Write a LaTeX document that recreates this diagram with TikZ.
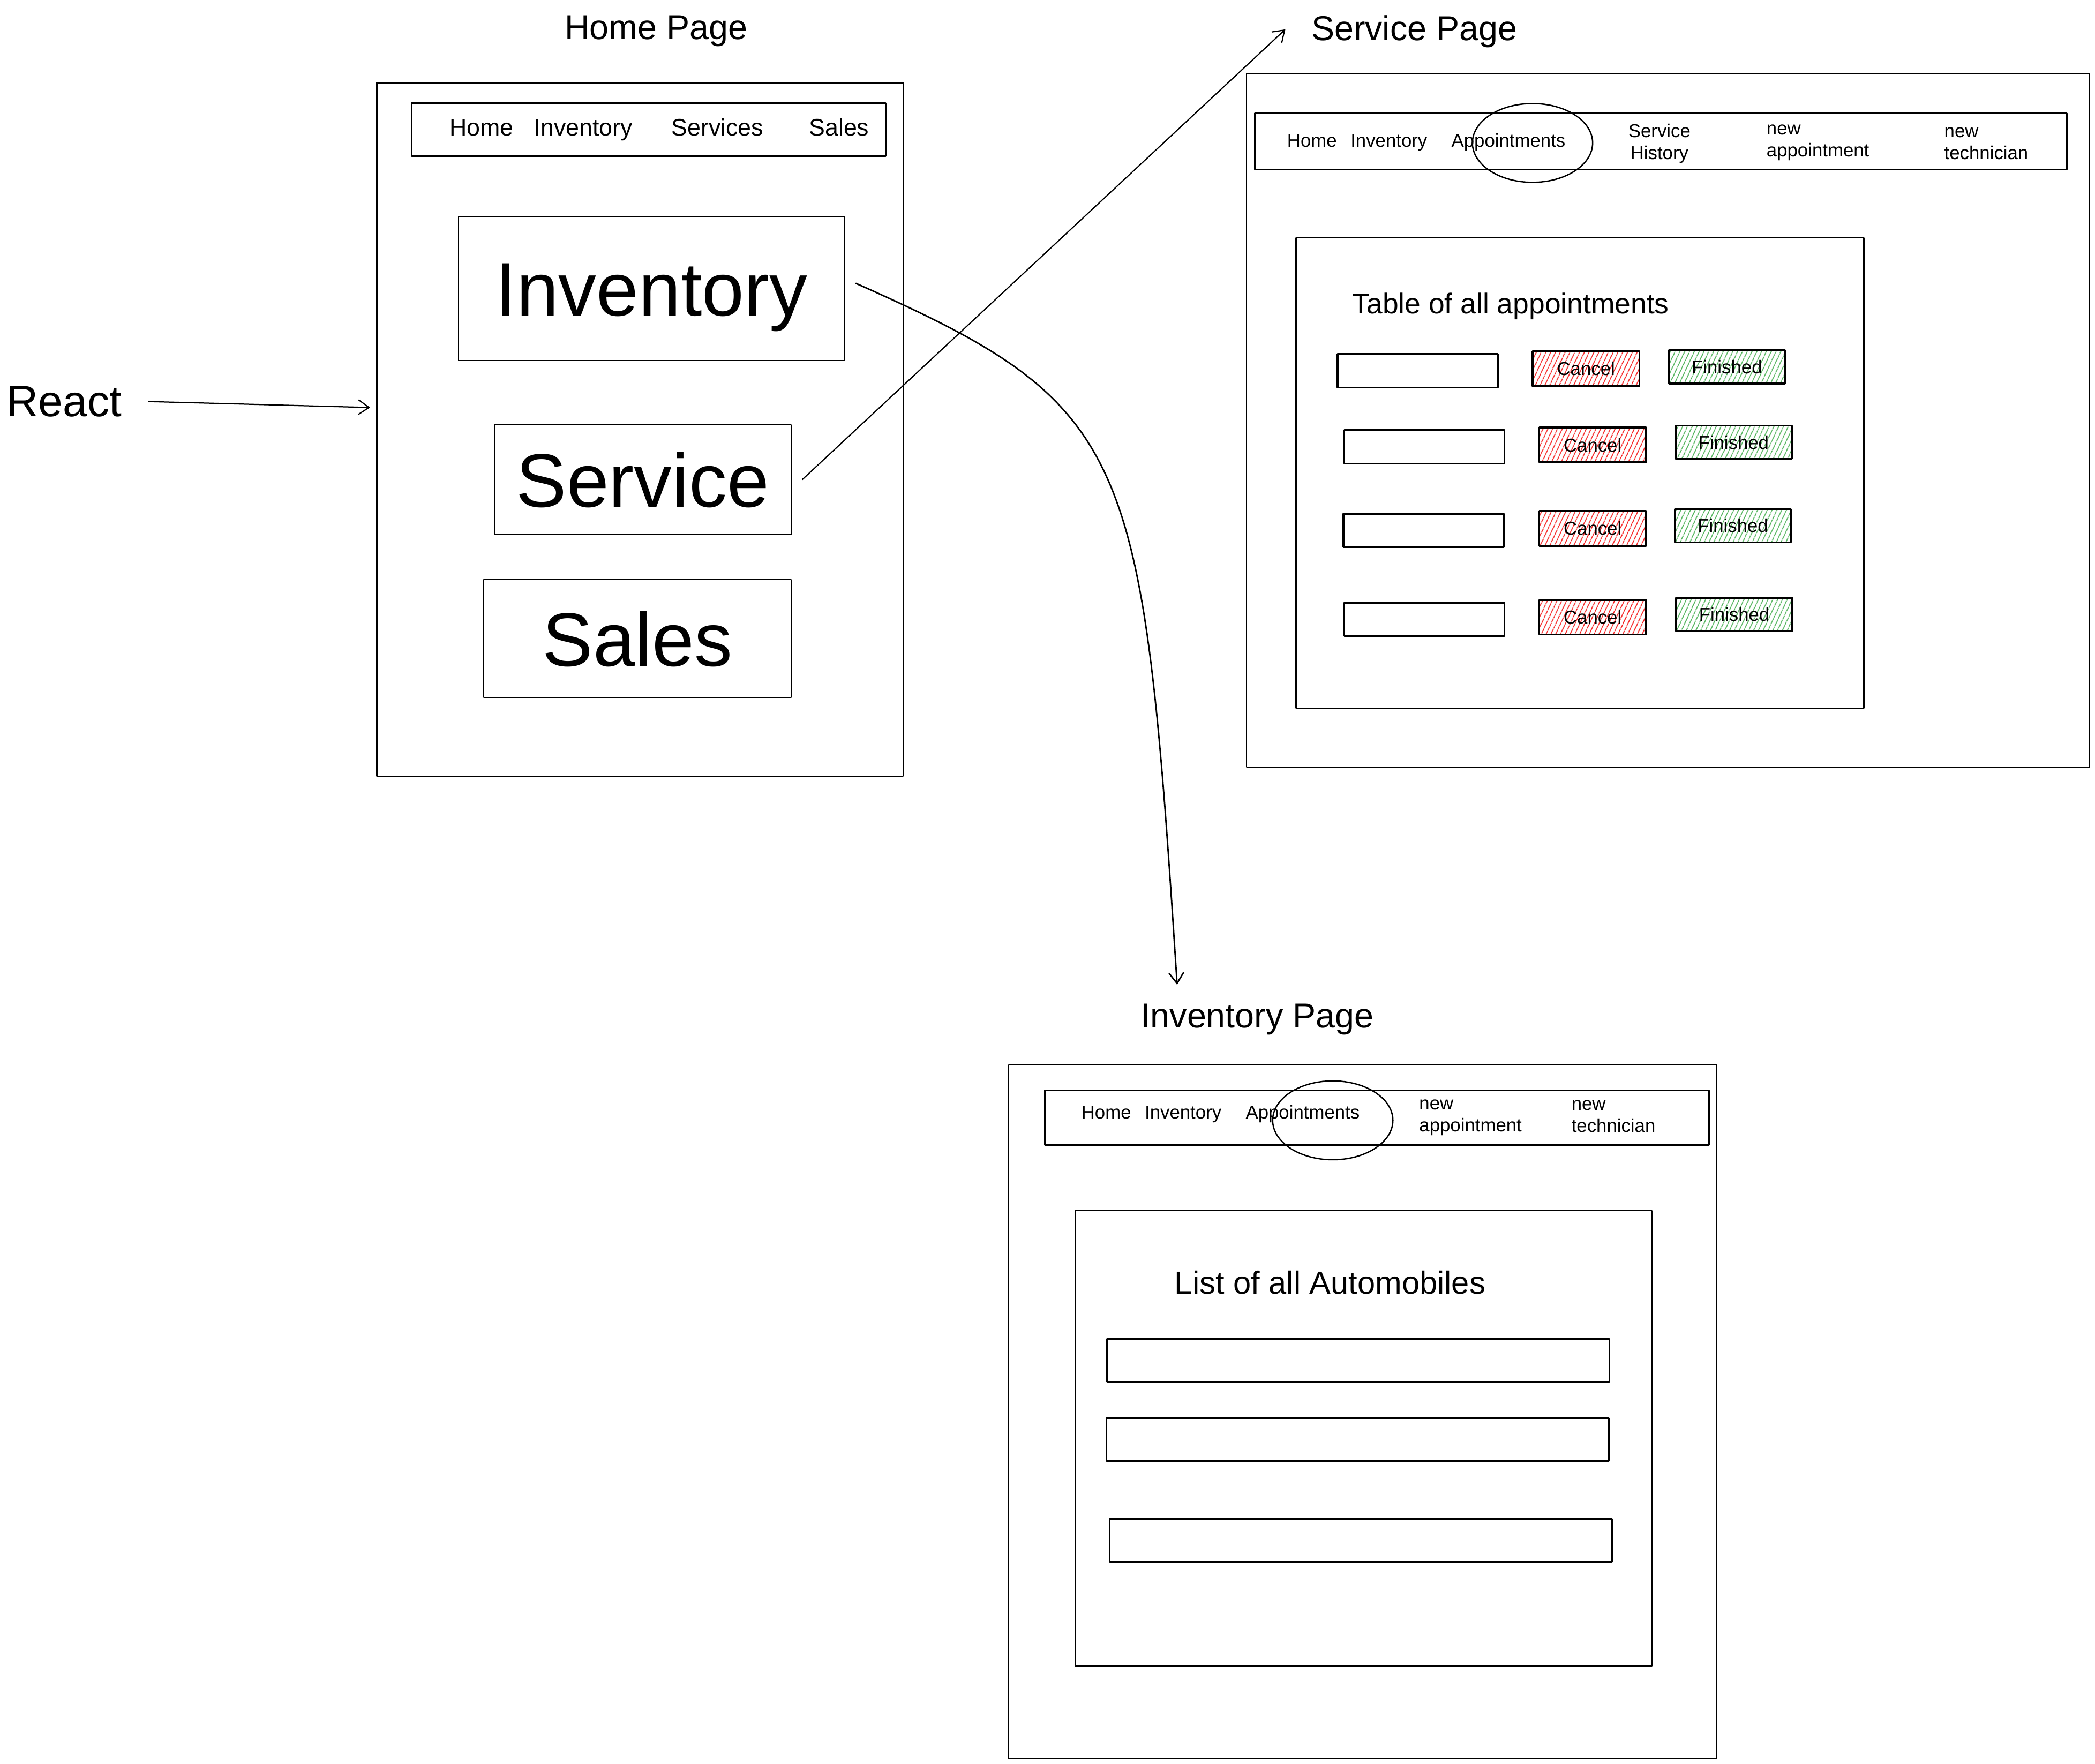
\documentclass[tikz,border=0pt]{standalone}
\usepackage{fontspec}
\setmainfont{Liberation Sans}
\usetikzlibrary{arrows.meta,patterns.meta,shapes.geometric}
\definecolor{hatchred}{RGB}{245,20,20}
\definecolor{hatchgreen}{RGB}{70,175,80}

\begin{document}
\begin{tikzpicture}[>={Straight Barb[length=8bp,width=11bp]},line join=bevel,
    page/.style={draw,rectangle,line width=0.9bp},
    bar/.style={draw,rectangle,line width=1.2bp},
    bigbox/.style={draw,rectangle,line width=0.8bp,font=\fontsize{57}{68}\selectfont,text height=40.8bp,text depth=0bp},
    ttl/.style={inner sep=0pt,font=\fontsize{26}{31}\selectfont,text height=18.6bp,text depth=0bp},
    navbig/.style={inner sep=0pt,font=\fontsize{18}{22}\selectfont,text height=12.9bp,text depth=0bp},
    navsmall/.style={inner sep=0pt,font=\fontsize{14}{16}\selectfont,text height=10bp,text depth=0bp},
    navtwo/.style={inner sep=0pt,font=\fontsize{14}{16.5}\selectfont},
    ring/.style={draw,ellipse,inner sep=0pt,line width=1bp},
    rowbox/.style={draw,rectangle,line width=1.4bp,minimum width=120bp,minimum height=25bp},
    cancelbtn/.style={draw,rectangle,line width=1.4bp,minimum width=80bp,minimum height=26bp,
        pattern={Lines[angle=65,distance=3.6bp,line width=0.8bp]},pattern color=hatchred,
        font=\fontsize{14}{16}\selectfont,text height=10bp,text depth=0bp},
    finishbtn/.style={draw,rectangle,line width=1.4bp,minimum width=87bp,minimum height=25bp,
        pattern={Lines[angle=65,distance=3.6bp,line width=0.8bp]},pattern color=hatchgreen,
        font=\fontsize{14}{16}\selectfont,text height=10bp,text depth=0bp},
    listrow/.style={draw,rectangle,line width=1.2bp,minimum width=376bp,minimum height=32bp},
    ]
    \useasboundingbox (0bp,0bp) rectangle (1568bp,1320bp);
    %% home page
    \node (hometitle) at (491bp,1300bp) [ttl] {Home Page};
    \node (homepage) at (479bp,998.5bp) [page,minimum width=394bp,minimum height=519bp] {};
    \node (homenav) at (485.5bp,1223bp) [bar,minimum width=355bp,minimum height=40bp] {};
    \node (homehome) at (360.5bp,1225bp) [navbig] {Home};
    \node (homeinv) at (436.5bp,1225bp) [navbig] {Inventory};
    \node (homesvc) at (537bp,1225bp) [navbig] {Services};
    \node (homesales) at (628bp,1225bp) [navbig] {Sales};
    \node (invbtn) at (487.5bp,1104bp) [bigbox,minimum width=289bp,minimum height=108bp] {Inventory};
    \node (svcbtn) at (481bp,961bp) [bigbox,minimum width=222bp,minimum height=82bp] {Service};
    \node (salesbtn) at (477bp,842bp) [bigbox,minimum width=230bp,minimum height=88bp] {Sales};
    %% react
    \node (react) at (48bp,1020bp) [inner sep=0pt,font=\fontsize{33}{40}\selectfont,text height=23.6bp,text depth=0bp] {React};
    \coordinate (reactin) at (277bp,1015bp);
    %% service page
    \node (svctitle) at (1058.5bp,1299bp) [ttl] {Service Page};
    \node (svcpage) at (1248.5bp,1005.5bp) [page,minimum width=631bp,minimum height=519bp] {};
    \node (svcnav) at (1243bp,1214bp) [bar,minimum width=608bp,minimum height=42bp] {};
    \node (svchome) at (982bp,1215bp) [navsmall] {Home};
    \node (svcinv) at (1039.5bp,1215bp) [navsmall] {Inventory};
    \node (svcappt) at (1129bp,1215bp) [navsmall] {Appointments};
    \node (svchist) at (1242bp,1212.5bp) [navtwo,align=center] {Service\\History};
    \node (svcnewappt) at (1322bp,1213.2bp) [navtwo,align=left,anchor=west] {new\\appointment};
    \node (svcnewtech) at (1455bp,1212.8bp) [navtwo,align=left,anchor=west] {new\\technician};
    \node (svcring) at (1147bp,1213bp) [ring,minimum width=90bp,minimum height=59bp] {};
    \node (svctable) at (1182.5bp,966bp) [page,minimum width=425bp,minimum height=352bp] {};
    \node (tabletitle) at (1012bp,1093bp) [anchor=west,inner sep=0pt,font=\fontsize{21.5}{26}\selectfont,text height=15.4bp,text depth=0bp] {Table of all appointments};
    \node (appt1) at (1061bp,1042.5bp) [rowbox] {};
    \node (cancel1) at (1187bp,1044bp) [cancelbtn] {Cancel};
    \node (finish1) at (1292.5bp,1045.5bp) [finishbtn] {Finished};
    \node (appt2) at (1066bp,985.5bp) [rowbox] {};
    \node (cancel2) at (1192bp,987bp) [cancelbtn] {Cancel};
    \node (finish2) at (1297.5bp,989bp) [finishbtn] {Finished};
    \node (appt3) at (1065.5bp,923bp) [rowbox] {};
    \node (cancel3) at (1192bp,924.5bp) [cancelbtn] {Cancel};
    \node (finish3) at (1297bp,926.5bp) [finishbtn] {Finished};
    \node (appt4) at (1066bp,856.5bp) [rowbox] {};
    \node (cancel4) at (1192bp,858bp) [cancelbtn] {Cancel};
    \node (finish4) at (1298bp,860bp) [finishbtn] {Finished};
    \coordinate (svcin) at (962bp,1298bp);
    %% inventory page
    \node (invtitle) at (941bp,560bp) [ttl] {Inventory Page};
    \node (invpage) at (1020bp,263.5bp) [page,minimum width=530bp,minimum height=519bp] {};
    \node (invnav) at (1030.5bp,483.5bp) [bar,minimum width=497bp,minimum height=41bp] {};
    \node (invhome) at (828bp,487.5bp) [navsmall] {Home};
    \node (invinv) at (885.5bp,487.5bp) [navsmall] {Inventory};
    \node (invappt) at (975bp,487.5bp) [navsmall] {Appointments};
    \node (invnewappt) at (1062bp,483.6bp) [navtwo,align=left,anchor=west] {new\\appointment};
    \node (invnewtech) at (1176bp,484.5bp) [navtwo,align=left,anchor=west] {new\\technician};
    \node (invring) at (997.5bp,481.5bp) [ring,minimum width=90bp,minimum height=59bp] {};
    \node (invlist) at (1020.5bp,243.5bp) [page,minimum width=432bp,minimum height=341bp] {};
    \node (listtitle) at (879bp,360bp) [anchor=west,inner sep=0pt,font=\fontsize{24}{29}\selectfont,text height=17.2bp,text depth=0bp] {List of all Automobiles};
    \node (auto1) at (1016.5bp,302bp) [listrow] {};
    \node (auto2) at (1016bp,242.5bp) [listrow] {};
    \node (auto3) at (1018.5bp,167bp) [listrow] {};
    \coordinate (invin) at (881bp,583bp);
    %% links
    \draw [->,line width=0.9bp,shorten <=20bp] (react.east) -- (reactin);
    \draw [->,line width=0.9bp] ([xshift=8bp]svcbtn.east) -- (svcin);
    \draw [->,line width=1.1bp] ([xshift=8bp,yshift=4bp]invbtn.east) ..controls (848bp,1016bp) and (855bp,985bp)  .. (invin);
    %
\end{tikzpicture}
\end{document}
